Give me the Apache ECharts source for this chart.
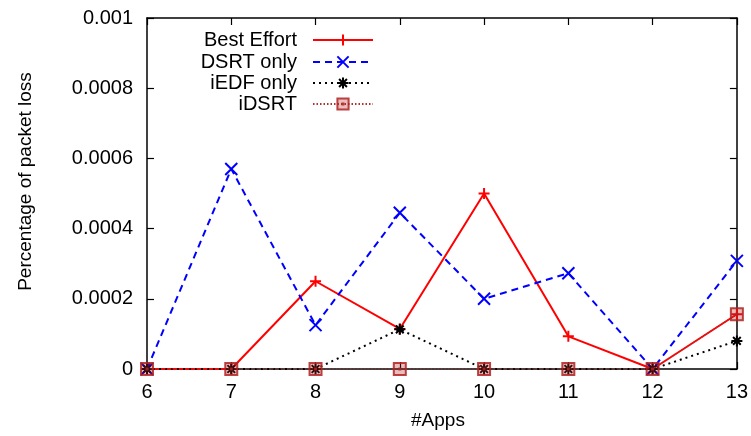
<!DOCTYPE html>
<html><head><meta charset="utf-8">
<script src="https://cdn.jsdelivr.net/npm/echarts@6/dist/echarts.min.js"></script>
<style>html,body{margin:0;padding:0;background:#fff}#c{width:751px;height:436px}</style>
</head><body><div id="c"></div>
<script>
const apps = [6, 7, 8, 9, 10, 11, 12, 13];
const bestEffort = [0, 0, 0.00025, 0.000114, 0.0005, 0.000093, 0, 0.000156];
const dsrtOnly   = [0, 0.00057, 0.000125, 0.000445, 0.0002, 0.000273, 0, 0.000308];
const iedfOnly   = [0, 0, 0, 0.000113, 0, 0, 0, 0.00008];
const idsrt      = [0, 0, 0, 0, 0, 0, 0, 0.000156];
const seriesNames = ['Best Effort', 'DSRT only', 'iEDF only', 'iDSRT'];
const yTicks = [0, 0.0002, 0.0004, 0.0006, 0.0008, 0.001];

const FONT = 'Liberation Sans, Arial, sans-serif';
const FS = 20;
const FT = 19;
const pair = arr => arr.map((v, i) => [apps[i], v]);

const SYM_PLUS = 'path://M5,0 L5,10 M0,5 L10,5';
const SYM_X = 'path://M0,0 L10,10 M10,0 L0,10';
const SYM_STAR = 'path://M5,0 L5,10 M0,5 L10,5 M1.5,1.5 L8.5,8.5 M8.5,1.5 L1.5,8.5';
const SYM_SQ = 'path://M0,0 L10,0 L10,10 L0,10 Z M4.6,4.6 L5.4,4.6 L5.4,5.4 L4.6,5.4 Z';

const chart = echarts.init(document.getElementById('c'), null, {renderer: 'canvas'});

function legendAt(name, top) {
  return {
    data: [name], right: 377, top: top, orient: 'vertical', align: 'right',
    itemWidth: 60, itemHeight: 14, padding: 0,
    textStyle: {fontFamily: FONT, fontSize: FS, color: '#000', padding: [0, 11, 0, 0]},
    selectedMode: false
  };
}

const axisCommon = {
  axisLine: {show: true, onZero: false, lineStyle: {color: '#000', width: 1.5}},
  axisTick: {show: true, inside: true, length: 7, lineStyle: {color: '#000', width: 1.2}},
  splitLine: {show: false}
};

chart.setOption({
  animation: false,
  backgroundColor: '#fff',
  grid: {left: 147, right: 11, top: 18, bottom: 67},
  legend: [legendAt(seriesNames[0], 30), legendAt(seriesNames[1], 52), legendAt(seriesNames[2], 73), legendAt(seriesNames[3], 94)],
  xAxis: [
    Object.assign({type: 'value', min: 6, max: 13, interval: 1, position: 'bottom',
      name: '#Apps', nameLocation: 'middle', nameGap: 42,
      nameTextStyle: {fontFamily: FONT, fontSize: FT, color: '#000', padding: [0, 8, 0, 0]},
      axisLabel: {fontFamily: FONT, fontSize: FS, color: '#000', margin: 13}}, axisCommon),
    Object.assign({type: 'value', min: 6, max: 13, interval: 1, position: 'top',
      axisLabel: {show: false}}, axisCommon)
  ],
  yAxis: [
    Object.assign({type: 'value', min: 0, max: 0.001, interval: 0.0002, position: 'left',
      name: 'Percentage of packet loss', nameLocation: 'middle', nameGap: 112,
      nameTextStyle: {fontFamily: FONT, fontSize: FT, color: '#000', padding: [0, 0, 0, 24]},
      axisLabel: {fontFamily: FONT, fontSize: FS, color: '#000', margin: 14,
        formatter: v => { const t = yTicks.find(x => Math.abs(x - v) < 1e-9); return String(t !== undefined ? t : v); }}}, axisCommon),
    Object.assign({type: 'value', min: 0, max: 0.001, interval: 0.0002, position: 'right',
      axisLabel: {show: false}}, axisCommon)
  ],
  series: [
    {name: seriesNames[0], type: 'line', data: pair(bestEffort), symbol: SYM_PLUS, symbolSize: 11,
      lineStyle: {color: '#ff0000', width: 2, type: 'solid'},
      itemStyle: {color: '#ff0000', borderColor: '#ff0000', borderWidth: 2}, z: 2},
    {name: seriesNames[1], type: 'line', data: pair(dsrtOnly), symbol: SYM_X, symbolSize: 12,
      lineStyle: {color: '#0000ff', width: 2, type: [7, 5]},
      itemStyle: {color: '#0000ff', borderColor: '#0000ff', borderWidth: 2}, z: 3},
    {name: seriesNames[2], type: 'line', data: pair(iedfOnly), symbol: SYM_STAR, symbolSize: 11,
      lineStyle: {color: '#000000', width: 2, type: [2, 4]},
      itemStyle: {color: '#000000', borderColor: '#000000', borderWidth: 2}, z: 4},
    {name: seriesNames[3], type: 'line', data: pair(idsrt), symbol: SYM_SQ, symbolSize: 12,
      lineStyle: {color: '#b03030', width: 1.2, type: [1.5, 2]},
      itemStyle: {color: 'rgba(178,34,34,0.35)', borderColor: '#b22222', borderWidth: 2, opacity: 0.85}, z: 5}
  ]
});
</script></body></html>
